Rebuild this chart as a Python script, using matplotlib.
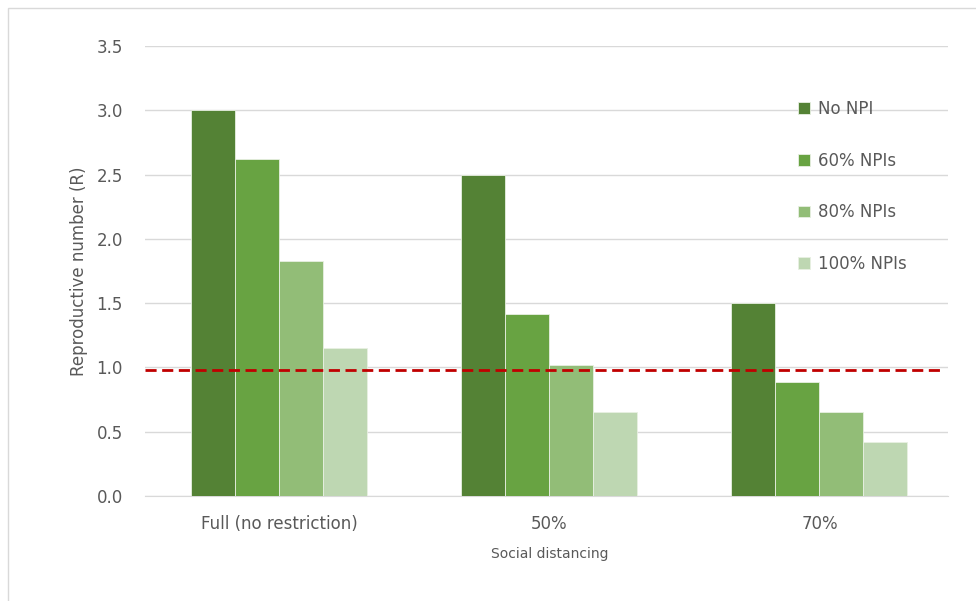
import numpy as np
import matplotlib.pyplot as plt
from matplotlib.patches import Rectangle

categories = ['Full (no restriction)', '50%', '70%']
series_names = ['No NPI', '60% NPIs', '80% NPIs', '100% NPIs']
no_npi = [3.0, 2.5, 1.5]
npi_60 = [2.62, 1.415, 0.89]
npi_80 = [1.83, 1.02, 0.65]
npi_100 = [1.15, 0.655, 0.42]
threshold = 0.98
yticks = [0.0, 0.5, 1.0, 1.5, 2.0, 2.5, 3.0, 3.5]

colors = ['#548235', '#68a342', '#92bd77', '#bed7b2']
grey = '#595959'

fig = plt.figure(figsize=(9.76, 6.01), dpi=100)
ax = fig.add_axes([145 / 976, 1 - 496 / 601, 803 / 976, 450 / 601])

# light frame around the chart area
fig.patches.append(Rectangle((8 / 976, -0.01), 1.0, 1 - 8 / 601 + 0.01,
                             transform=fig.transFigure, fill=False,
                             edgecolor='#d9d9d9', lw=1))

x = np.arange(len(categories))
w = 0.163
all_series = [no_npi, npi_60, npi_80, npi_100]
for i, (vals, name) in enumerate(zip(all_series, series_names)):
    ax.bar(x + (i - 1.5) * w, vals, w, color=colors[i], label=name,
           edgecolor='#e8f0e2', linewidth=0.6, zorder=3)

ax.axhline(threshold, xmax=0.995, color='#c00000', ls=(0, (4, 2)), lw=2, zorder=4)

ax.set_xlim(-0.498, 2.476)
ax.set_ylim(0, 3.5)
ax.set_yticks(yticks)
ax.set_yticklabels(['%.1f' % v for v in yticks])
ax.set_xticks(x)
ax.set_xticklabels(categories)
ax.tick_params(axis='both', length=0, labelsize=12, colors=grey)
ax.tick_params(axis='x', pad=14)
ax.tick_params(axis='y', pad=16)
ax.yaxis.grid(True, color='#d9d9d9', lw=1, zorder=0)
ax.set_axisbelow(True)
for s in ['top', 'right', 'left']:
    ax.spines[s].set_visible(False)
ax.spines['bottom'].set_color('#d9d9d9')

ax.set_ylabel('Reproductive number (R)', fontsize=12, color=grey, labelpad=6)
ax.set_xlabel('Social distancing', fontsize=10, color=grey, labelpad=8)
ax.xaxis.set_label_coords(0.504, -0.114)

leg = ax.legend(loc='upper left', bbox_to_anchor=(783 / 976, 1 - 85 / 601),
                bbox_transform=fig.transFigure, frameon=False, fontsize=12,
                labelspacing=2.02, handlelength=0.7, handleheight=0.7,
                handletextpad=0.5)
for t in leg.get_texts():
    t.set_color(grey)

fig.savefig('out.png', dpi=100)
